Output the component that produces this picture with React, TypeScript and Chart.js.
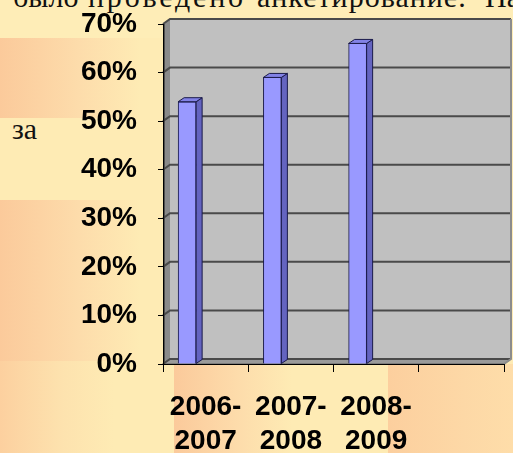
import React, { useEffect, useRef } from "react";
import { Chart, registerables } from "chart.js";

Chart.register(...registerables);

// ---- data ----
const categories: (string | string[])[] = [["2006-", "2007"], ["2007-", "2008"], ["2008-", "2009"], ""];
const shares: (number | null)[] = [0.54, 0.59, 0.66, null];
const yTickLabels = ["0%", "10%", "20%", "30%", "40%", "50%", "60%", "70%"];
const topWords = [
  { text: "было", left: 13, spacing: 0 },
  { text: "проведено", left: 88, spacing: 2.8 },
  { text: "анкетирование.", left: 257, spacing: 1 },
  { text: "На", left: 485, spacing: 0 },
];

// ---- style constants ----
const WALL_DX = 7;
const WALL_DY = -5;
const BAR_DX = 6;
const BAR_DY = -4;
const BAR_SHIFT = -18.5;
const LABEL_FONT = '"Liberation Sans", Arial, sans-serif';

const threeD = {
  id: "threeD",
  beforeDraw(chart: any) {
    const { ctx, chartArea } = chart;
    const { left, right, top, bottom } = chartArea;
    const y = chart.scales.y;
    ctx.save();
    // side wall
    ctx.fillStyle = "#8a8a8a";
    ctx.beginPath();
    ctx.moveTo(left, top);
    ctx.lineTo(left + WALL_DX, top + WALL_DY);
    ctx.lineTo(left + WALL_DX, bottom + WALL_DY);
    ctx.lineTo(left, bottom);
    ctx.closePath();
    ctx.fill();
    // back wall
    ctx.fillStyle = "#c0c0c0";
    ctx.fillRect(left + WALL_DX, top + WALL_DY, right - left, bottom - top);
    // floor
    ctx.fillStyle = "#9a9a9a";
    ctx.beginPath();
    ctx.moveTo(left, bottom);
    ctx.lineTo(left + WALL_DX, bottom + WALL_DY);
    ctx.lineTo(right + WALL_DX, bottom + WALL_DY);
    ctx.lineTo(right, bottom);
    ctx.closePath();
    ctx.fill();
    ctx.strokeStyle = "#606060";
    ctx.lineWidth = 1;
    ctx.stroke();
    // gridlines on back and side walls
    ctx.strokeStyle = "#4a4a4a";
    ctx.lineWidth = 2;
    y.ticks.forEach((t: any) => {
      const py = y.getPixelForValue(t.value);
      ctx.beginPath();
      ctx.moveTo(left, py);
      ctx.lineTo(left + WALL_DX, py + WALL_DY);
      ctx.lineTo(right + WALL_DX, py + WALL_DY);
      ctx.stroke();
    });
    // back wall right edge
    ctx.strokeStyle = "#8c8c8c";
    ctx.lineWidth = 2;
    ctx.beginPath();
    ctx.moveTo(right + WALL_DX, top + WALL_DY);
    ctx.lineTo(right + WALL_DX, bottom + WALL_DY);
    ctx.lineTo(right, bottom);
    ctx.stroke();
    // side wall left edge
    ctx.strokeStyle = "#3a3a3a";
    ctx.lineWidth = 1.5;
    ctx.beginPath();
    ctx.moveTo(left + 1, top);
    ctx.lineTo(left + 1, bottom);
    ctx.stroke();
    ctx.restore();
  },
  afterDatasetsUpdate(chart: any) {
    chart.getDatasetMeta(0).data.forEach((el: any) => {
      el.x += BAR_SHIFT;
    });
  },
  afterDatasetsDraw(chart: any) {
    const { ctx } = chart;
    ctx.save();
    ctx.strokeStyle = "#1a1a4a";
    ctx.lineWidth = 1;
    ctx.lineJoin = "round";
    chart.getDatasetMeta(0).data.forEach((el: any, i: number) => {
      if (shares[i] == null) return;
      const { x, y, base, width } = el.getProps(["x", "y", "base", "width"], true);
      const l = x - width / 2;
      const r = x + width / 2;
      // side face
      ctx.fillStyle = "#6464c0";
      ctx.beginPath();
      ctx.moveTo(r, y);
      ctx.lineTo(r + BAR_DX, y + BAR_DY);
      ctx.lineTo(r + BAR_DX, base + BAR_DY);
      ctx.lineTo(r, base);
      ctx.closePath();
      ctx.fill();
      ctx.stroke();
      // top face
      ctx.fillStyle = "#8282e6";
      ctx.beginPath();
      ctx.moveTo(l, y);
      ctx.lineTo(l + BAR_DX, y + BAR_DY);
      ctx.lineTo(r + BAR_DX, y + BAR_DY);
      ctx.lineTo(r, y);
      ctx.closePath();
      ctx.fill();
      ctx.stroke();
    });
    ctx.restore();
  },
};

function zeroPad(s: any) {
  s.paddingTop = 0;
  s.paddingBottom = 0;
  s.paddingLeft = 0;
  s.paddingRight = 0;
}

function ChartCanvas() {
  const ref = useRef<HTMLCanvasElement | null>(null);
  useEffect(() => {
    if (!ref.current) return;
    const chart = new Chart(ref.current, {
      type: "bar",
      data: {
        labels: categories,
        datasets: [
          {
            data: shares,
            backgroundColor: "#9999ff",
            borderColor: "#1a1a4a",
            borderWidth: 1,
            barThickness: 18,
          },
        ],
      },
      options: {
        responsive: false,
        animation: false,
        layout: { padding: { top: 24, right: 9, left: 0, bottom: 0 } },
        plugins: { legend: { display: false }, tooltip: { enabled: false } },
        scales: {
          x: {
            afterFit: (s: any) => {
              s.height = 89;
              zeroPad(s);
            },
            grid: {
              drawOnChartArea: false,
              drawTicks: true,
              tickLength: 8,
              color: "#000",
              offset: true,
            },
            border: { display: true, color: "#000", width: 1 },
            ticks: {
              color: "#000",
              padding: 18,
              maxRotation: 0,
              autoSkip: false,
              font: { family: LABEL_FONT, size: 28, weight: "bold", lineHeight: 1.21 },
            },
          },
          y: {
            min: 0,
            max: 0.7,
            afterFit: (s: any) => {
              s.width = 163;
              zeroPad(s);
            },
            grid: { drawOnChartArea: false, drawTicks: true, tickLength: 5, color: "#000" },
            border: { display: true, color: "#000", width: 1 },
            ticks: {
              stepSize: 0.1,
              color: "#000",
              padding: 21,
              font: { family: LABEL_FONT, size: 28, weight: "bold" },
              callback: (_v: any, i: number) => yTickLabels[i],
            },
          },
        },
      },
      plugins: [threeD],
    } as any);
    return () => chart.destroy();
  }, []);
  return (
    <canvas
      ref={ref}
      width={513}
      height={453}
      style={{ position: "absolute", left: 0, top: 0, width: 513, height: 453 }}
    />
  );
}

const YEL = "#feebb4";
const PEACH = "#fbca9b";

function Block(props: { l: number; t: number; w: number; h: number; bg: string }) {
  return (
    <div
      style={{
        position: "absolute",
        left: props.l,
        top: props.t,
        width: props.w,
        height: props.h,
        background: props.bg,
      }}
    />
  );
}

export default function App() {
  const serif = '"Liberation Serif", "Times New Roman", serif';
  return (
    <div
      style={{
        position: "fixed",
        left: 0,
        top: 0,
        width: 513,
        height: 453,
        overflow: "hidden",
        background: YEL,
      }}
    >
      <Block l={0} t={0} w={513} h={38} bg="#feedb7" />
      <Block l={0} t={38} w={175} h={80} bg={`linear-gradient(to right, ${PEACH} 0%, #fddcab 45%, ${YEL} 80%)`} />
      <Block l={0} t={200} w={175} h={161} bg={`linear-gradient(to right, ${PEACH} 0%, #fddcab 45%, ${YEL} 80%)`} />
      <Block l={0} t={361} w={175} h={92} bg={`linear-gradient(to right, #fcd09f 0%, #fde2ae 35%, ${YEL} 65%)`} />
      <Block l={174} t={364} w={214} h={89} bg={`linear-gradient(to right, ${PEACH} 0%, #fddcab 30%, ${YEL} 55%)`} />
      <Block l={388} t={364} w={125} h={89} bg={`linear-gradient(to right, #fccf9e 0%, #fdd8a6 60%, #fedda9 100%)`} />
      {topWords.map((w) => (
        <span
          key={w.text}
          style={{
            position: "absolute",
            left: w.left,
            top: -18,
            font: `30px ${serif}`,
            lineHeight: "30px",
            letterSpacing: w.spacing,
            whiteSpace: "nowrap",
            color: "#111",
          }}
        >
          {w.text}
        </span>
      ))}
      <span
        style={{
          position: "absolute",
          left: 12,
          top: 114,
          font: `30px ${serif}`,
          lineHeight: "30px",
          color: "#111",
        }}
      >
        за
      </span>
      <ChartCanvas />
    </div>
  );
}
